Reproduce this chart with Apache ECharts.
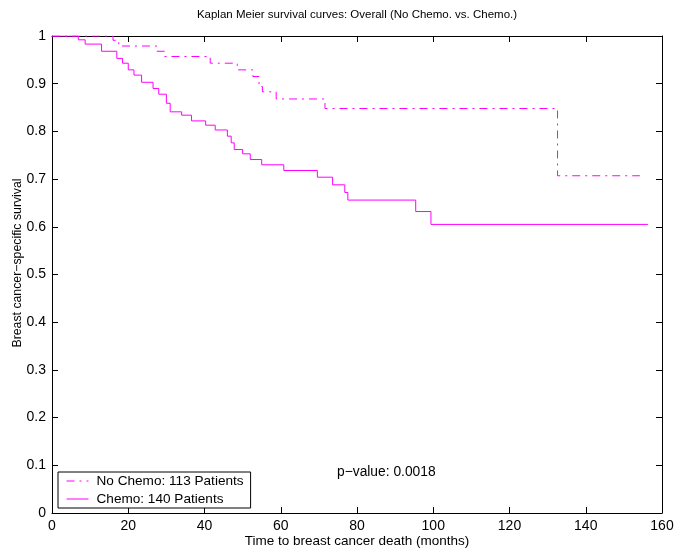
<!DOCTYPE html>
<html>
<head>
<meta charset="utf-8">
<script src="https://cdn.jsdelivr.net/npm/echarts@6/dist/echarts.min.js"></script>
<style>
  html, body { margin: 0; padding: 0; background: #fff; }
  #km-chart { width: 674px; height: 548px; }
</style>
</head>
<body>
<div id="km-chart"></div>
<script>
// survival steps (months, survival after that time)
const chemoMonths = [0, 6.9, 8.7, 13, 17, 18.5, 20, 21.5, 23.5, 26.5, 28, 30, 31, 34, 36.6, 40.3, 42.8, 46, 47, 47.8, 50, 52, 55, 60.8, 69.6, 73.6, 76.8, 77.6, 95.4, 99.4, 156.3];
const chemoSurv = [1, 0.992, 0.983, 0.968, 0.953, 0.943, 0.929, 0.918, 0.903, 0.89, 0.878, 0.859, 0.841, 0.834, 0.822, 0.813, 0.803, 0.79, 0.776, 0.762, 0.753, 0.741, 0.73, 0.718, 0.704, 0.688, 0.672, 0.656, 0.632, 0.605, 0.605];
const noChemoMonths = [0, 16, 17.5, 27.5, 29.5, 41.5, 48.6, 52.7, 54.3, 55.2, 58.8, 71.6, 132.6, 154.2];
const noChemoSurv = [1, 0.991, 0.979, 0.968, 0.957, 0.943, 0.929, 0.915, 0.894, 0.883, 0.868, 0.848, 0.707, 0.707];
const seriesNames = ['No Chemo: 113 Patients', 'Chemo: 140 Patients'];
const pValueText = 'p\u2212value: 0.0018';

const font = 'Liberation Sans, Arial, sans-serif';
const chart = echarts.init(document.getElementById('km-chart'));

function pairs(xs, ys) {
  return xs.map((x, i) => [x, ys[i]]);
}

function axisBase(isX, showLabel, pos) {
  return {
    type: 'value',
    position: pos,
    min: 0,
    max: isX ? 160 : 1,
    interval: isX ? 20 : 0.1,
    axisLine: { show: true, onZero: false, lineStyle: { color: '#000', width: 1 } },
    axisTick: { show: true, inside: true, length: 6, lineStyle: { color: '#000' } },
    splitLine: { show: false },
    axisLabel: {
      show: showLabel,
      color: '#000',
      fontFamily: font,
      fontSize: 14,
      margin: 6,
      formatter: v => isX ? String(v) : String(Math.round(v * 10) / 10)
    }
  };
}

chart.setOption({
  animation: false,
  backgroundColor: '#fff',
  grid: { left: 52, right: 12, top: 36, bottom: 35, containLabel: false, outerBoundsMode: 'none' },
  graphic: [
    {
      type: 'text', x: 357, y: 15,
      style: { text: 'Kaplan Meier survival curves: Overall (No Chemo. vs. Chemo.)', fontFamily: font, fontSize: 11.5, fill: '#000', align: 'center', verticalAlign: 'middle' }
    },
    {
      type: 'text', x: 357, y: 541,
      style: { text: 'Time to breast cancer death (months)', fontFamily: font, fontSize: 13.5, fill: '#000', align: 'center', verticalAlign: 'middle' }
    },
    {
      type: 'text', x: 18, y: 263, rotation: Math.PI / 2,
      style: { text: 'Breast cancer\u2212specific survival', fontFamily: font, fontSize: 12.3, fill: '#000', align: 'center', verticalAlign: 'middle' }
    },
    {
      type: 'text', x: 337, y: 472,
      style: { text: pValueText, fontFamily: font, fontSize: 13.8, fill: '#000', align: 'left', verticalAlign: 'middle' }
    }
  ],
  legend: {
    orient: 'vertical',
    left: 58,
    top: 472,
    padding: [2, 7, 2, 8],
    itemWidth: 22,
    itemHeight: 12,
    itemGap: 4,
    borderColor: '#000',
    borderWidth: 1,
    backgroundColor: '#fff',
    itemStyle: { opacity: 0 },
    lineStyle: { width: 1 },
    textStyle: { color: '#000', fontFamily: font, fontSize: 13.6, padding: [0, 0, 0, 3] },
    data: seriesNames
  },
  xAxis: [axisBase(true, true, 'bottom'), axisBase(true, false, 'top')],
  yAxis: [axisBase(false, true, 'left'), axisBase(false, false, 'right')],
  series: [
    {
      name: seriesNames[0],
      type: 'line',
      step: 'end',
      symbol: 'none',
      xAxisIndex: 0,
      yAxisIndex: 0,
      lineStyle: { color: '#ff00ff', width: 1, type: [8, 5, 2, 5] },
      itemStyle: { color: '#ff00ff' },
      data: pairs(noChemoMonths, noChemoSurv)
    },
    {
      name: seriesNames[1],
      type: 'line',
      step: 'end',
      symbol: 'none',
      xAxisIndex: 0,
      yAxisIndex: 0,
      lineStyle: { color: '#ff00ff', width: 1 },
      itemStyle: { color: '#ff00ff' },
      data: pairs(chemoMonths, chemoSurv)
    }
  ]
});
</script>
</body>
</html>
